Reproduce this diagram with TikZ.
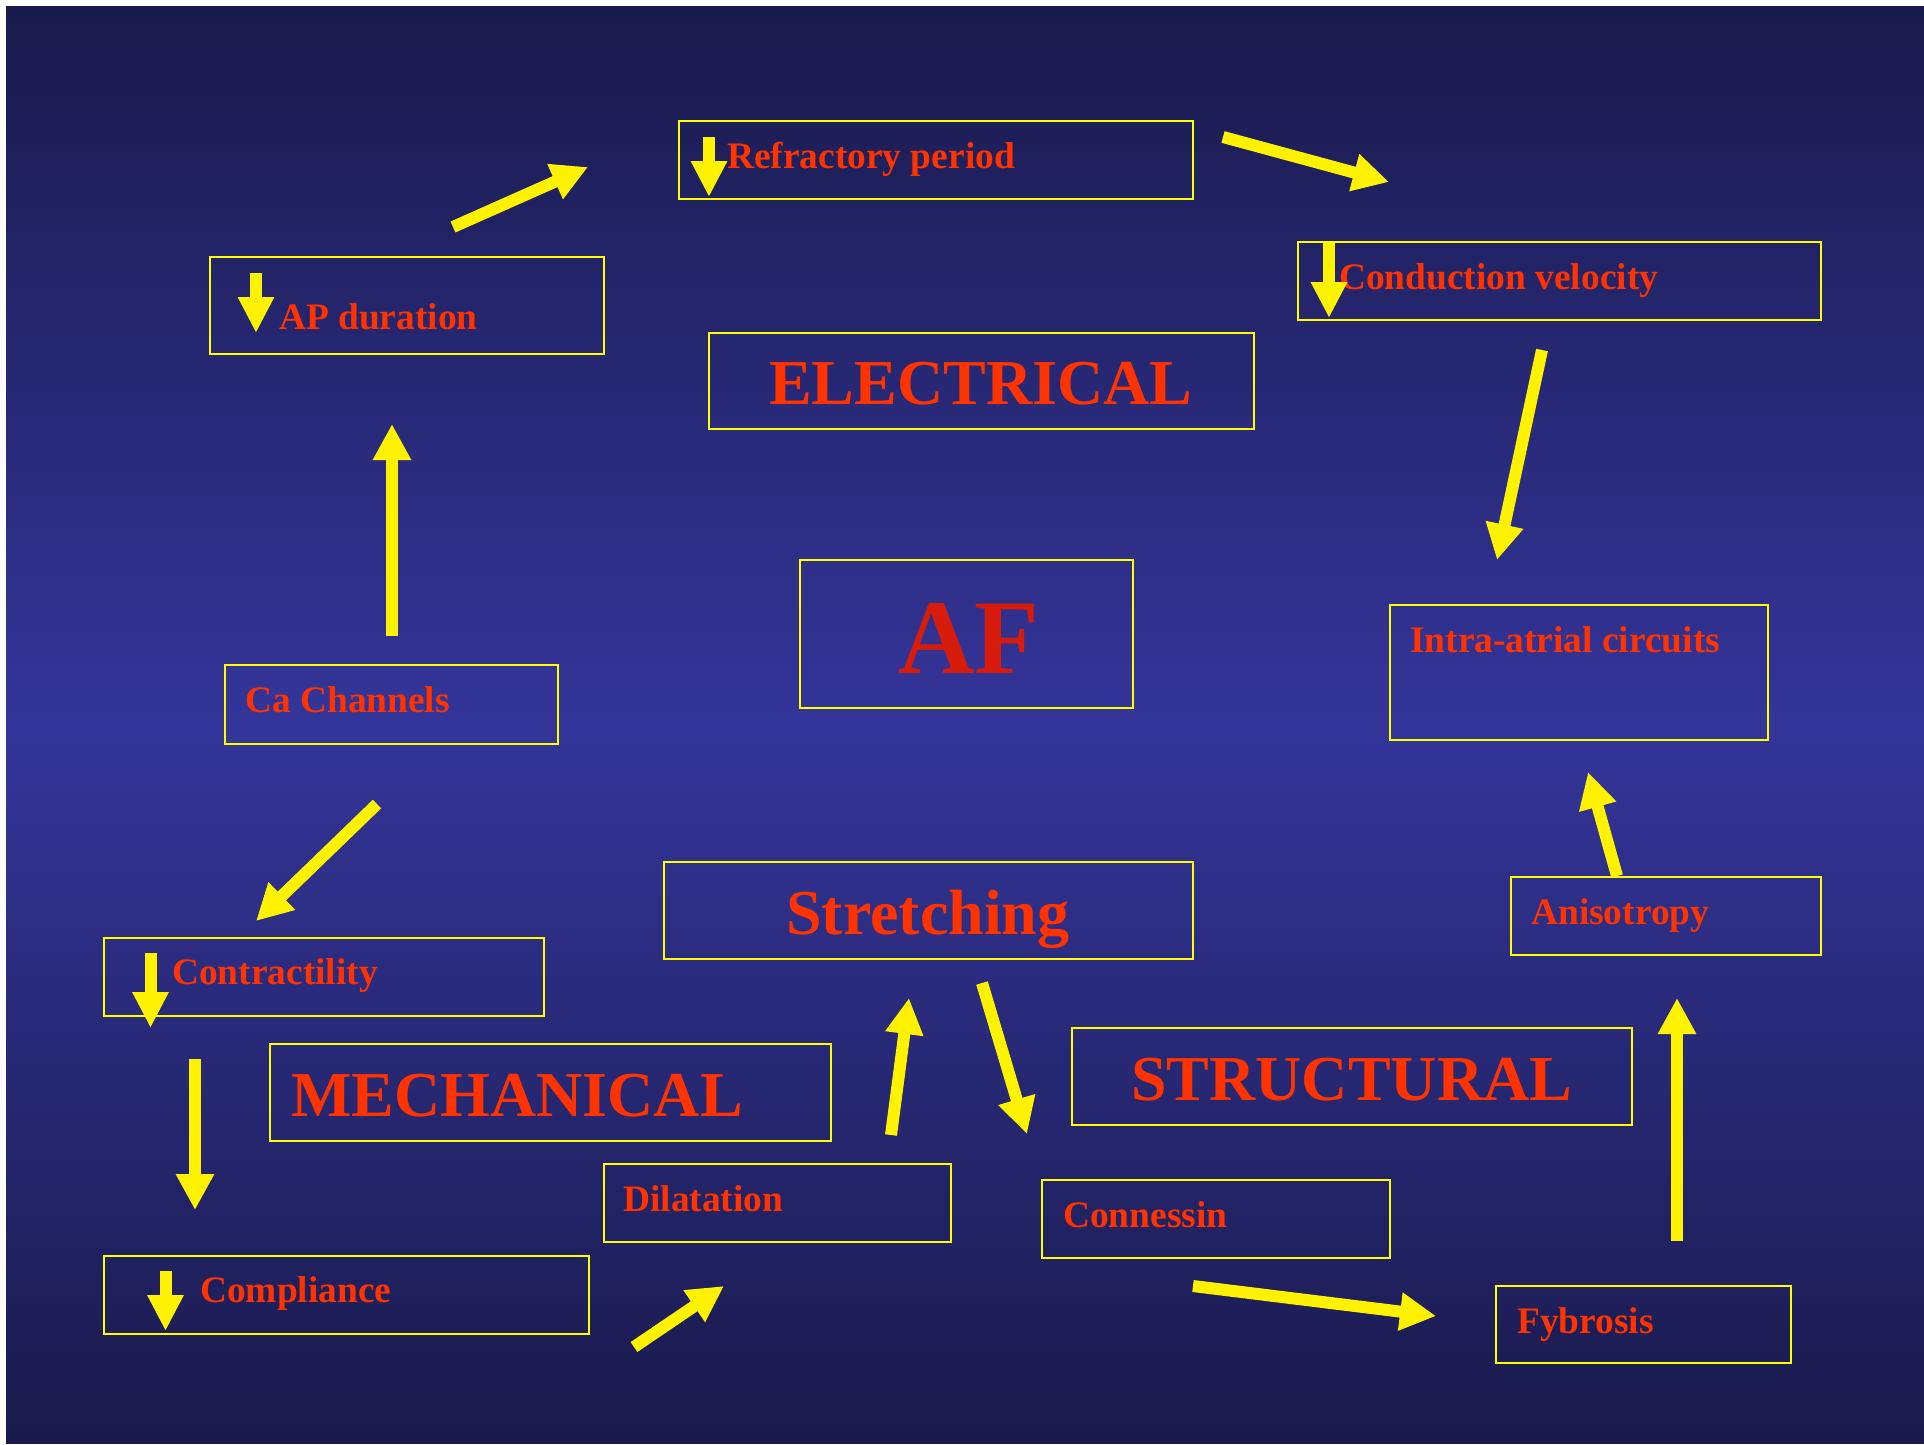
\documentclass[tikz,border=0pt]{standalone}
\usepackage{fontspec}
\setmainfont{Liberation Serif}
\usetikzlibrary{arrows.meta}
\definecolor{bgdark}{HTML}{191A4B}
\definecolor{bgmid}{HTML}{34359A}
\definecolor{labelred}{HTML}{FF3300}
\definecolor{afred}{HTML}{D81C0C}
\definecolor{boxyellow}{HTML}{FFFF00}
\tikzset{
  box/.style={draw=boxyellow, line width=1.3pt, rectangle, inner sep=0pt},
  lbl/.style={text=labelred, font=\fontsize{37.4}{40}\selectfont\bfseries, inner sep=0pt, anchor=base west},
  biglbl/.style={text=labelred, font=\fontsize{64}{70}\selectfont\bfseries, inner sep=0pt, anchor=base west},
  flow/.style={draw=yellow, line width=12pt, -{Triangle[width=36pt,length=36pt]}},
  down/.style={draw=yellow, line width=12pt, -{Triangle[width=34pt,length=36pt]}},
}
\newcommand{\boxat}[5]{\node[box, minimum width=#3pt, minimum height=#4pt] (#5) at (#1,#2) {};}
\begin{document}
\begin{tikzpicture}[x=1pt,y=-1pt]
\useasboundingbox (0,0) rectangle (1924,1444);
\fill[white] (0,0) rectangle (1924,1444);
% backdrop: vertical gradient, dark at top and bottom, brightest near the middle
\foreach \y in {6,10,...,1442} {
  \pgfmathsetmacro\p{max(0,min(100,100*(1-abs(\y+2-725)/720)))}
  \fill[bgmid!\p!bgdark] (6,\y) rectangle (1924,{min(1444,\y+4.6)});
}

% framed boxes (centre x, centre y, width, height)
\boxat{936}{160}{514}{78}{refr}
\boxat{407}{305.5}{394}{97}{apd}
\boxat{1559.5}{281}{523}{78}{cond}
\boxat{981.5}{381}{545}{96}{elec}
\boxat{966.5}{634}{333}{148}{af}
\boxat{391.5}{704.5}{333}{79}{ca}
\boxat{1579}{672.5}{378}{135}{intra}
\boxat{928.5}{910.5}{529}{97}{stretch}
\boxat{1666}{916}{310}{78}{aniso}
\boxat{324}{977}{440}{78}{contr}
\boxat{550.5}{1092.5}{561}{97}{mech}
\boxat{1352}{1076.5}{560}{97}{struct}
\boxat{777.5}{1203}{347}{78}{dilat}
\boxat{1216}{1219}{348}{78}{conn}
\boxat{346.5}{1295}{485}{78}{compl}
\boxat{1643.5}{1324.5}{295}{77}{fybr}

% texts
\node[lbl] (trefr) at (727,168) {Refractory period};
\node[lbl] (tapd) at (279,329) {AP duration};
\node[lbl] (tcond) at (1339,289) {Conduction velocity};
\node[biglbl] (telec) at (769,404) {ELECTRICAL};
\node[text=afred, font=\fontsize{106}{110}\selectfont\bfseries, inner sep=0pt, anchor=base west] (taf) at (898,673) {AF};
\node[lbl] (tca) at (245,712) {Ca Channels};
\node[lbl] (tintra) at (1410,652) {Intra-atrial circuits};
\node[text=labelred, font=\fontsize{64}{70}\selectfont\bfseries, inner sep=0pt, anchor=base west] (tstretch) at (786,934) {Stretching};
\node[lbl] (taniso) at (1531,924) {Anisotropy};
\node[lbl] (tcontr) at (172,984) {Contractility};
\node[biglbl] (tmech) at (291,1116) {MECHANICAL};
\node[biglbl] (tstruct) at (1131,1100) {STRUCTURAL};
\node[lbl] (tdilat) at (623,1211) {Dilatation};
\node[lbl] (tconn) at (1063,1227) {Connessin};
\node[lbl] (tcompl) at (200,1302) {Compliance};
\node[lbl] (tfybr) at (1517,1333) {Fybrosis};

% small "decrease" arrows in front of the labels
\coordinate (d1a) at (709,137);    \coordinate (d1b) at (709,197);
\coordinate (d2a) at (256,273);    \coordinate (d2b) at (256,333);
\coordinate (d3a) at (1329,243);   \coordinate (d3b) at (1329,318);
\coordinate (d4a) at (150.5,953);  \coordinate (d4b) at (150.5,1028);
\coordinate (d5a) at (165.5,1271); \coordinate (d5b) at (165.5,1331);
\draw[down] (d1a) -- (d1b);
\draw[down] (d2a) -- (d2b);
\draw[down] (d3a) -- (d3b);
\draw[down] (d4a) -- (d4b);
\draw[down] (d5a) -- (d5b);

% flow arrows between the boxes
\coordinate (a1s) at (453,227);   \coordinate (a1e) at (588,167);
\coordinate (a2s) at (1223,137);  \coordinate (a2e) at (1389,182);
\coordinate (a3s) at (1542,350);  \coordinate (a3e) at (1497,560);
\coordinate (a4s) at (392,636);   \coordinate (a4e) at (392,424);
\coordinate (a5s) at (377,804);   \coordinate (a5e) at (256,921);
\coordinate (a6s) at (195,1059);  \coordinate (a6e) at (195,1210);
\coordinate (a7s) at (634,1347);  \coordinate (a7e) at (724,1286);
\coordinate (a8s) at (891,1135);  \coordinate (a8e) at (909,998);
\coordinate (a9s) at (982,983);   \coordinate (a9e) at (1027,1134);
\coordinate (a10s) at (1193,1286); \coordinate (a10e) at (1436,1316);
\coordinate (a11s) at (1677,1241); \coordinate (a11e) at (1677,998);
\coordinate (a12s) at (1617,876);  \coordinate (a12e) at (1588,772);
\foreach \i in {1,...,12} {\draw[flow] (a\i s) -- (a\i e);}
\end{tikzpicture}
\end{document}
